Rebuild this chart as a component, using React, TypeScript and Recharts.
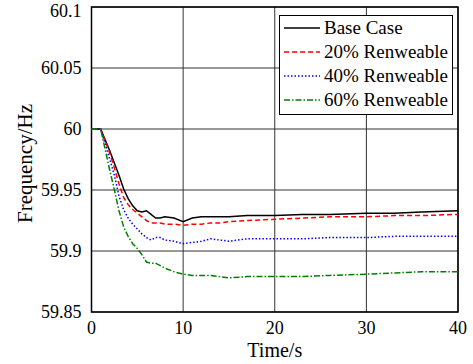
import {
  LineChart,
  Line,
  XAxis,
  YAxis,
  CartesianGrid,
  ReferenceArea,
  Label,
} from "recharts";

const FONT = "Liberation Serif, Times New Roman, Tinos, DejaVu Serif, serif";

const time = [0, 1, 2, 2.5, 3, 3.5, 4, 4.5, 5, 5.5, 6, 6.5, 7, 7.5, 8, 9, 10, 11, 12, 13, 14, 15, 17, 20, 23, 26, 30, 33, 36, 40];

const baseCase = [60, 60, 59.982, 59.972, 59.962, 59.951, 59.943, 59.937, 59.933, 59.932, 59.933, 59.93, 59.927, 59.927, 59.928, 59.927, 59.924, 59.927, 59.928, 59.928, 59.928, 59.928, 59.929, 59.929, 59.93, 59.93, 59.931, 59.931, 59.932, 59.933];
const renew20 = [60, 60, 59.98, 59.968, 59.955, 59.944, 59.938, 59.934, 59.931, 59.928, 59.925, 59.923, 59.923, 59.923, 59.922, 59.922, 59.921, 59.922, 59.922, 59.923, 59.923, 59.924, 59.925, 59.926, 59.927, 59.928, 59.928, 59.929, 59.929, 59.93];
const renew40 = [60, 60, 59.975, 59.962, 59.945, 59.934, 59.927, 59.922, 59.918, 59.914, 59.911, 59.909, 59.911, 59.911, 59.909, 59.908, 59.906, 59.907, 59.908, 59.91, 59.909, 59.908, 59.91, 59.91, 59.91, 59.911, 59.911, 59.912, 59.912, 59.912];
const renew60 = [60, 60, 59.966, 59.95, 59.933, 59.92, 59.912, 59.906, 59.902, 59.897, 59.891, 59.89, 59.89, 59.888, 59.886, 59.883, 59.881, 59.88, 59.88, 59.88, 59.879, 59.878, 59.879, 59.879, 59.879, 59.88, 59.881, 59.882, 59.883, 59.883];

const xTicks = [0, 10, 20, 30, 40];
const yTicks = [59.85, 59.9, 59.95, 60, 60.05, 60.1];

const series = [
  { key: "base", name: "Base Case", color: "#000000", dash: undefined },
  { key: "r20", name: "20% Renweable", color: "#ff0000", dash: "5 3" },
  { key: "r40", name: "40% Renweable", color: "#0000ff", dash: "1.5 2" },
  { key: "r60", name: "60% Renweable", color: "#008000", dash: "6 2 1.5 2" },
];

const data = time.map((t, i) => ({
  t,
  base: baseCase[i],
  r20: renew20[i],
  r40: renew40[i],
  r60: renew60[i],
}));

// x tick labels sit tight under the axis like the matlab original
const XTick = ({ x, y, payload }: any) => (
  <text
    x={x}
    y={y + 14}
    textAnchor="middle"
    fontFamily={FONT}
    fontSize={18}
    fill="#000"
  >
    {payload.value}
  </text>
);

// legend sits over the plot, drawn as html so it doesn't eat chart height
const LegendBox = () => (
  <div
    style={{
      position: "absolute",
      left: 279,
      top: 15,
      border: "1.5px solid #000",
      background: "#fff",
      padding: "0px 4px 2px 3px",
      fontFamily: FONT,
      fontSize: 19,
      color: "#000",
      lineHeight: "24px",
    }}
  >
    {series.map((s) => (
      <div key={s.key} style={{ display: "flex", alignItems: "center" }}>
        <svg width={38} height={10} style={{ marginRight: 3 }}>
          <line
            x1={1}
            y1={5}
            x2={37}
            y2={5}
            stroke={s.color}
            strokeWidth={1.5}
            strokeDasharray={s.dash}
          />
        </svg>
        <span>{s.name}</span>
      </div>
    ))}
  </div>
);

export default function App() {
  return (
    <div style={{ position: "absolute", left: 0, top: 0, width: 473, height: 364, background: "#fff" }}>
      <LineChart
        width={473}
        height={364}
        data={data}
        margin={{ top: 7, right: 15, bottom: 0, left: 0 }}
      >
        <CartesianGrid stroke="#333" strokeWidth={1} />
        <XAxis
          dataKey="t"
          type="number"
          domain={[0, 40]}
          ticks={xTicks}
          height={52}
          tickLine={false}
          axisLine={false}
          tick={<XTick />}
        >
          <Label
            content={({ viewBox }: any) => (
              <text
                x={viewBox.x + viewBox.width / 2}
                y={viewBox.y + 45}
                textAnchor="middle"
                fontFamily={FONT}
                fontSize={20}
                fill="#000"
              >
                Time/s
              </text>
            )}
          />
        </XAxis>
        <YAxis
          type="number"
          domain={[59.85, 60.1]}
          ticks={yTicks}
          width={91.5}
          tickLine={false}
          axisLine={false}
          tickMargin={4}
          allowDataOverflow
          tick={{ fill: "#000", fontFamily: FONT, fontSize: 18 }}
        >
          <Label
            content={({ viewBox }: any) => {
              const cx = viewBox.x + 25;
              const cy = viewBox.y + viewBox.height / 2 + 4;
              return (
                <text
                  x={cx}
                  y={cy}
                  transform={`rotate(-90 ${cx} ${cy})`}
                  textAnchor="middle"
                  dominantBaseline="central"
                  fontFamily={FONT}
                  fontSize={21}
                  fill="#000"
                >
                  Frequency/Hz
                </text>
              );
            }}
          />
        </YAxis>
        <ReferenceArea
          x1={0}
          x2={40}
          y1={59.85}
          y2={60.1}
          fill="none"
          stroke="#000"
          strokeWidth={1.5}
          ifOverflow="visible"
        />
        {series.map((s) => (
          <Line
            key={s.key}
            dataKey={s.key}
            name={s.name}
            type="linear"
            stroke={s.color}
            strokeWidth={1.5}
            strokeDasharray={s.dash}
            dot={false}
            isAnimationActive={false}
          />
        ))}
      </LineChart>
      <LegendBox />
    </div>
  );
}
